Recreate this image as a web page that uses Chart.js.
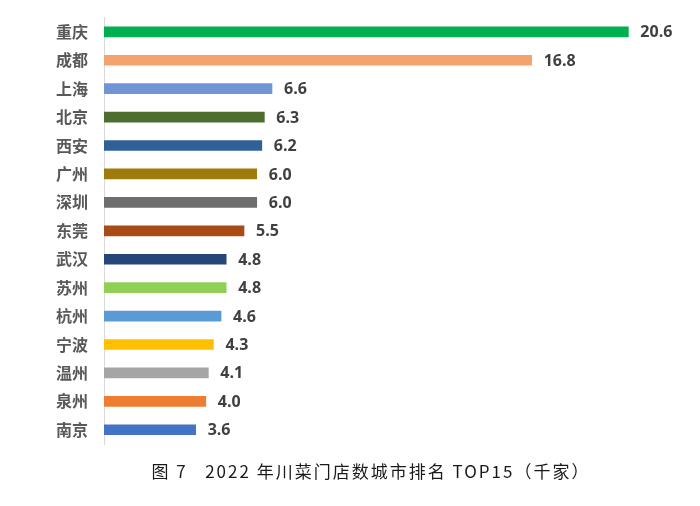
<!DOCTYPE html>
<html>
<head>
<meta charset="utf-8">
<script src="https://cdn.jsdelivr.net/npm/chart.js@4"></script>
<style>
  html, body { margin: 0; padding: 0; background: #fff; }
  #wrap { position: relative; width: 700px; height: 506px; }
  #caption {
    position: absolute; left: 0; width: 742px; top: 458px; text-align: center;
    font-family: "Noto Sans CJK SC", sans-serif; font-size: 17px; color: #1a1a1a;
    letter-spacing: 2px; white-space: pre;
  }
</style>
</head>
<body>
<div id="wrap">
  <canvas id="chart" width="700" height="506"></canvas>
  <div id="caption">图 7   2022 年川菜门店数城市排名 TOP15（千家）</div>
</div>
<script>
// 城市与门店数（千家）
const cities = ["重庆", "成都", "上海", "北京", "西安", "广州", "深圳", "东莞", "武汉", "苏州", "杭州", "宁波", "温州", "泉州", "南京"];
const storeCounts = [20.6, 16.8, 6.6, 6.3, 6.2, 6.0, 6.0, 5.5, 4.8, 4.8, 4.6, 4.3, 4.1, 4.0, 3.6];
const barColors = ["#00B050", "#F4A36C", "#7094D4", "#4C6E2E", "#2F6098", "#9F7B0E", "#6E6E6E", "#A84B16", "#264579", "#90D056", "#5B9BD5", "#FFC000", "#A5A5A5", "#ED7D31", "#4472C4"];

// tulis nilai di ujung batang
const valueLabels = {
  id: "valueLabels",
  afterDatasetsDraw(chart) {
    const ctx = chart.ctx;
    const meta = chart.getDatasetMeta(0);
    ctx.save();
    ctx.font = "bold 16px 'Open Sans', sans-serif";
    ctx.fillStyle = "#404040";
    ctx.textAlign = "left";
    ctx.textBaseline = "middle";
    meta.data.forEach((bar, i) => {
      ctx.fillText(storeCounts[i].toFixed(1), bar.x + 12, bar.y + 1);
    });
    ctx.restore();
  },
};

new Chart(document.getElementById("chart"), {
  type: "bar",
  data: {
    labels: cities,
    datasets: [{
      data: storeCounts,
      backgroundColor: barColors,
      barThickness: 10,
    }],
  },
  options: {
    indexAxis: "y",
    responsive: false,
    animation: false,
    layout: { padding: { top: 13, bottom: 62, right: 36, left: 0 } },
    plugins: { legend: { display: false }, tooltip: { enabled: false } },
    scales: {
      x: { display: false, min: 0, max: 22 },
      y: {
        afterFit: (s) => { s.width = 104; },
        grid: { display: false },
        border: { display: true, color: "#D9D9D9", width: 1 },
        ticks: {
          color: "#595959",
          padding: 8,
          font: { family: "'Noto Sans CJK SC', sans-serif", size: 16, weight: "bold" },
        },
      },
    },
  },
  plugins: [valueLabels],
});
</script>
</body>
</html>
